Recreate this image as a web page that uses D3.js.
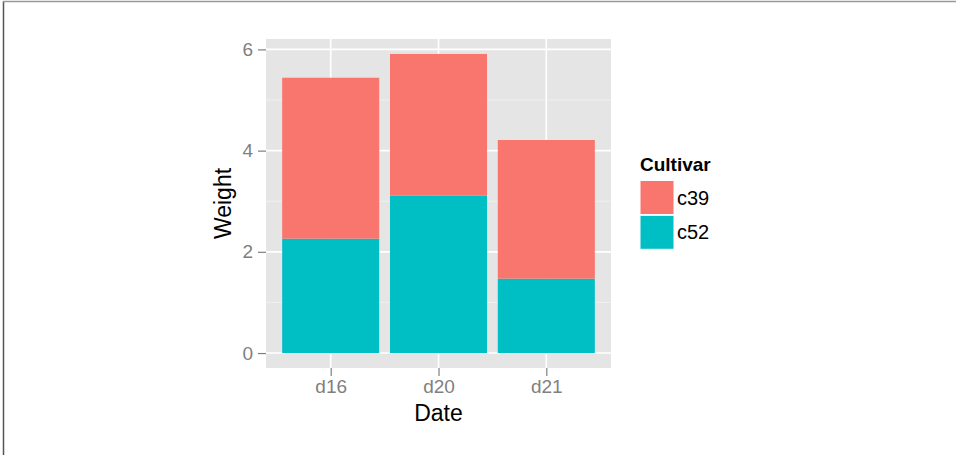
<!DOCTYPE html>
<html><head><meta charset="utf-8">
<script src="https://cdn.jsdelivr.net/npm/d3@7"></script>
<style>
body{margin:0;background:#fff;}
svg{display:block;font-family:"Liberation Sans",Arial,Helvetica,sans-serif;}
</style></head>
<body><svg id="c" width="956" height="455"></svg>
<script>
const dates = ["d16","d20","d21"];
const cultivars = ["c39","c52"];
const c39 = [3.18, 2.80, 2.74];
const c52 = [2.26, 3.11, 1.47];
const yTicks = [0,2,4,6];
const yMinor = [1,3,5];
const colors = ["#F8766D","#00BFC4"];

const svg = d3.select("#c");
// frame lines
svg.append("line").attr("x1",3.5).attr("x2",3.5).attr("y1",1).attr("y2",455).attr("stroke","#555").attr("stroke-width",1.5);
svg.append("line").attr("x1",3).attr("x2",956).attr("y1",1.5).attr("y2",1.5).attr("stroke","#999").attr("stroke-width",1.5);

const L=266,R=611,T=39,B=368;
const rows = dates.map((d,i)=>({date:d,c39:c39[i],c52:c52[i]}));
const stack = d3.stack().keys(["c52","c39"])(rows);
const maxV = d3.max(rows,r=>r.c39+r.c52);
const y = d3.scaleLinear().domain([-maxV*0.05, maxV*1.05]).range([B,T]);
const xPos = d3.scaleLinear().domain([0.4, dates.length+0.6]).range([L,R]);
const x = d => xPos(dates.indexOf(d)+1);
const bw = xPos(0.9)-xPos(0);

svg.append("rect").attr("x",L).attr("y",T).attr("width",R-L).attr("height",B-T).attr("fill","#E5E5E5");
const g = svg.append("g");
g.selectAll(".minor").data(yMinor).join("line")
  .attr("x1",L).attr("x2",R).attr("y1",d=>y(d)).attr("y2",d=>y(d))
  .attr("stroke","#F2F2F2").attr("stroke-width",0.8);
g.selectAll(".majy").data(yTicks).join("line")
  .attr("x1",L).attr("x2",R).attr("y1",d=>y(d)).attr("y2",d=>y(d))
  .attr("stroke","#fff").attr("stroke-width",1.6);
g.selectAll(".majx").data(dates).join("line")
  .attr("x1",d=>x(d)).attr("x2",d=>x(d)).attr("y1",T).attr("y2",B)
  .attr("stroke","#fff").attr("stroke-width",1.6);

const keyColor = {c39:colors[0], c52:colors[1]};
stack.forEach(layer=>{
  svg.append("g").selectAll("rect").data(layer).join("rect")
    .attr("x",d=>x(d.data.date)-bw/2).attr("width",bw)
    .attr("y",d=>y(d[1])).attr("height",d=>y(d[0])-y(d[1]))
    .attr("fill",keyColor[layer.key]);
});

// y axis
const yAxis = d3.axisLeft(y).tickValues(yTicks).tickSize(8).tickPadding(5).tickFormat(d3.format("d"));
const ya = svg.append("g").attr("transform",`translate(${L},0)`).call(yAxis);
ya.select(".domain").remove();
ya.selectAll(".tick line").attr("stroke","#7F7F7F").attr("stroke-width",1.2);
ya.selectAll(".tick text").attr("fill","#7F7F7F").style("font-size","19px").attr("font-family",null);

// x axis
const xScaleBand = d3.scalePoint().domain(dates).range([x(dates[0]), x(dates[dates.length-1])]);
const xAxis = d3.axisBottom(xScaleBand).tickSize(8).tickPadding(4);
const xa = svg.append("g").attr("transform",`translate(0,${B})`).call(xAxis);
xa.select(".domain").remove();
xa.selectAll(".tick line").attr("stroke","#7F7F7F").attr("stroke-width",1.2);
xa.selectAll(".tick text").attr("fill","#7F7F7F").style("font-size","19px").attr("font-family",null);

svg.append("text").attr("x",(L+R)/2).attr("y",420.5).attr("text-anchor","middle")
  .style("font-size","23px").attr("fill","#000").text("Date");
svg.append("text").attr("transform",`translate(230.5,${(T+B)/2}) rotate(-90)`).attr("text-anchor","middle")
  .style("font-size","23px").attr("fill","#000").text("Weight");

// legend
svg.append("text").attr("x",640).attr("y",171).style("font-size","19px").style("font-weight","bold").text("Cultivar");
const lg = svg.append("g");
cultivars.forEach((c,i)=>{
  const ky = 180.5 + i*34.8;
  lg.append("rect").attr("x",640).attr("y",ky).attr("width",34).attr("height",34).attr("fill",colors[i]).attr("stroke","#fff").attr("stroke-width",1);
  lg.append("text").attr("x",677).attr("y",ky+17).attr("dy","0.35em").style("font-size","20px").text(c);
});
</script></body></html>
